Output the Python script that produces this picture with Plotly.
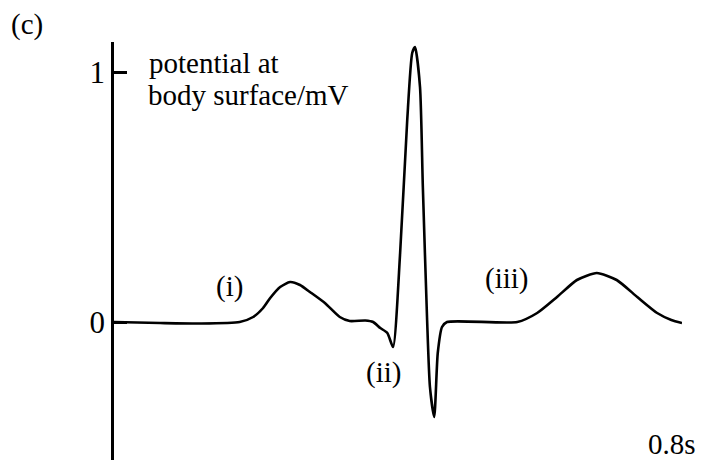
import plotly.graph_objects as go

# ECG trace: time (s) and potential (mV)
time_s = [0, 0.065, 0.121, 0.177, 0.196, 0.210, 0.220, 0.234, 0.248, 0.262, 0.276,
          0.297, 0.318, 0.332, 0.354, 0.365, 0.375, 0.385, 0.393, 0.403, 0.413,
          0.420, 0.424, 0.431, 0.435, 0.441, 0.445, 0.451, 0.456, 0.462, 0.469,
          0.568, 0.596, 0.624, 0.652, 0.680, 0.708, 0.737, 0.765, 0.785, 0.800]
potential_mv = [0, -0.004, -0.006, 0.0, 0.02, 0.056, 0.096, 0.14, 0.16, 0.148, 0.12,
                0.076, 0.02, 0.004, 0.006, 0.0, -0.024, -0.044, -0.1, 0.276, 0.808,
                1.076, 1.1, 0.94, 0.54, 0.008, -0.26, -0.38, -0.124, -0.02, 0.0,
                0.0, 0.036, 0.1, 0.168, 0.196, 0.168, 0.1, 0.036, 0.008, -0.004]

y_tick_vals = [0, 1]
y_tick_text = ["0", "1"]

labels = ["(i)", "(ii)", "(iii)"]
label_t = [0.163, 0.379, 0.554]
label_v = [0.144, -0.2, 0.176]

FONT = "Liberation Serif"
FS = 29

fig = go.Figure()
fig.add_trace(go.Scatter(
    x=time_s, y=potential_mv, mode="lines",
    line=dict(color="black", width=2.6, shape="spline", smoothing=0.6),
    hoverinfo="skip", showlegend=False,
))

for txt, tx, ty in zip(labels, label_t, label_v):
    fig.add_annotation(x=tx, y=ty, text=txt, showarrow=False,
                       xanchor="center", yanchor="middle",
                       font=dict(family=FONT, size=FS, color="black"))

fig.add_annotation(x=0.786, y=-0.488, text="0.8s", showarrow=False,
                   xanchor="center", yanchor="middle",
                   font=dict(family=FONT, size=FS, color="black"))
fig.add_annotation(x=0.047, y=1.036, text="potential at", showarrow=False,
                   xanchor="left", yanchor="middle",
                   font=dict(family=FONT, size=FS, color="black"))
fig.add_annotation(x=0.045, y=0.908, text="body surface/mV", showarrow=False,
                   xanchor="left", yanchor="middle",
                   font=dict(family=FONT, size=FS, color="black"))
fig.add_annotation(xref="paper", yref="paper", x=-0.153, y=1.041, text="(c)",
                   showarrow=False, xanchor="center", yanchor="middle",
                   font=dict(family=FONT, size=FS, color="black"))

fig.update_layout(
    width=702, height=460,
    margin=dict(l=114, r=20, t=42, b=0),
    paper_bgcolor="white", plot_bgcolor="white",
    xaxis=dict(range=[0, 0.8], visible=False, fixedrange=True),
    yaxis=dict(range=[-0.552, 1.12], showgrid=False, zeroline=False,
               showline=True, linecolor="black", linewidth=2.5,
               ticks="inside", ticklen=13, tickwidth=2.5, tickcolor="black",
               tickvals=y_tick_vals, ticktext=y_tick_text,
               tickfont=dict(family=FONT, size=31, color="black"),
               automargin=False, fixedrange=True),
)

fig.write_html("out.html", config={"displayModeBar": False},
               post_script="document.body.style.margin='0';document.body.style.overflow='hidden';")
